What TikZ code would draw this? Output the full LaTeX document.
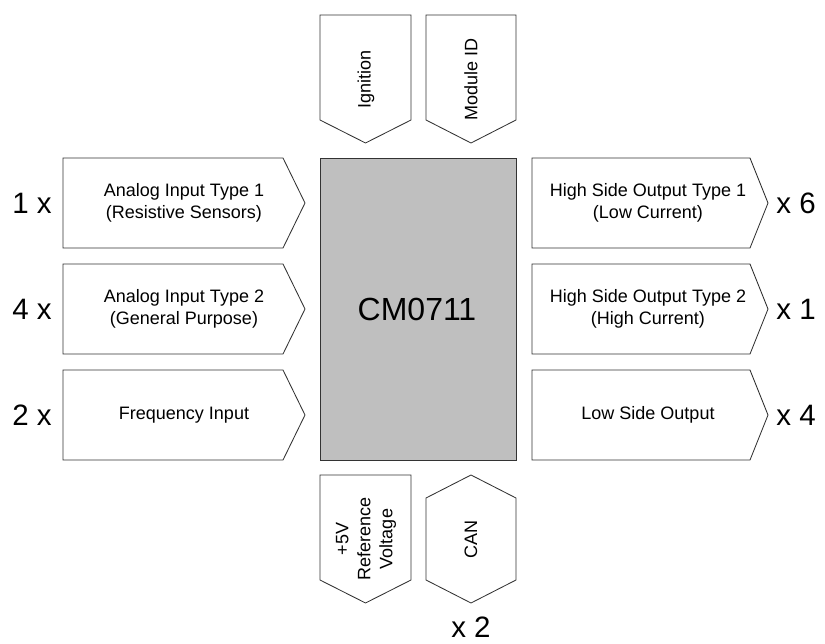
\documentclass[tikz,border=0pt]{standalone}
\usepackage{fontspec}
\setmainfont{Liberation Sans}
\begin{document}
\begin{tikzpicture}[x=1pt,y=-1pt,
  shp/.style={draw=black!80,line width=0.85pt,fill=white,line join=miter},
  boxtxt/.style={font=\fontsize{18}{22}\selectfont,align=center,inner sep=0pt},
  big/.style={font=\fontsize{29.5}{33}\selectfont,inner sep=0pt}]
\useasboundingbox (0,0) rectangle (825,643);
% center block
\draw[shp,fill=black!25] (320,158) rectangle (516,460);
\node[inner sep=0pt,font=\fontsize{32}{36}\selectfont] (cm) at (417,309) {CM0711};
% left arrows
\foreach \y in {158,264,370}{
  \draw[shp] (63,\y) -- (283,\y) -- (305,\y+45) -- (283,\y+90) -- (63,\y+90) -- cycle;
}
\node[boxtxt] (ai1) at (184,203) {Analog Input Type 1\\(Resistive Sensors)};
\node[boxtxt] (ai2) at (184,309) {Analog Input Type 2\\(General Purpose)};
\node[boxtxt] (fi) at (184,415) {Frequency Input};
\node[big] (n1) at (32,203) {1 x};
\node[big] (n4) at (32,309) {4 x};
\node[big] (n2) at (32,415) {2 x};
% right arrows
\foreach \y in {158,264,370}{
  \draw[shp] (532,\y) -- (750,\y) -- (768,\y+45) -- (750,\y+90) -- (532,\y+90) -- cycle;
}
\node[boxtxt] (hs1) at (648,203) {High Side Output Type 1\\(Low Current)};
\node[boxtxt] (hs2) at (648,309) {High Side Output Type 2\\(High Current)};
\node[boxtxt] (ls) at (648,415) {Low Side Output};
\node[big] (m6) at (796,203) {x 6};
\node[big] (m1) at (796,309) {x 1};
\node[big] (m4) at (796,415) {x 4};
% top arrows
\draw[shp] (320,15) -- (411,15) -- (411,120) -- (365.5,143) -- (320,120) -- cycle;
\draw[shp] (426,15) -- (516,15) -- (516,120) -- (471,143) -- (426,120) -- cycle;
\node[boxtxt,rotate=90] (ign) at (366,79) {Ignition};
\node[boxtxt,rotate=90] (mid) at (471,79) {Module ID};
% bottom
\draw[shp] (320,475) -- (411,475) -- (411,580) -- (365.5,603) -- (320,580) -- cycle;
\draw[shp] (471,475) -- (516,498) -- (516,580) -- (471,603) -- (426,580) -- (426,498) -- cycle;
\node[boxtxt,rotate=90] (ref) at (366,539) {+5V\\Reference\\Voltage};
\node[boxtxt,rotate=90] (can) at (471,539) {CAN};
\node[big] (m2) at (471,627) {x 2};
\end{tikzpicture}
\end{document}
